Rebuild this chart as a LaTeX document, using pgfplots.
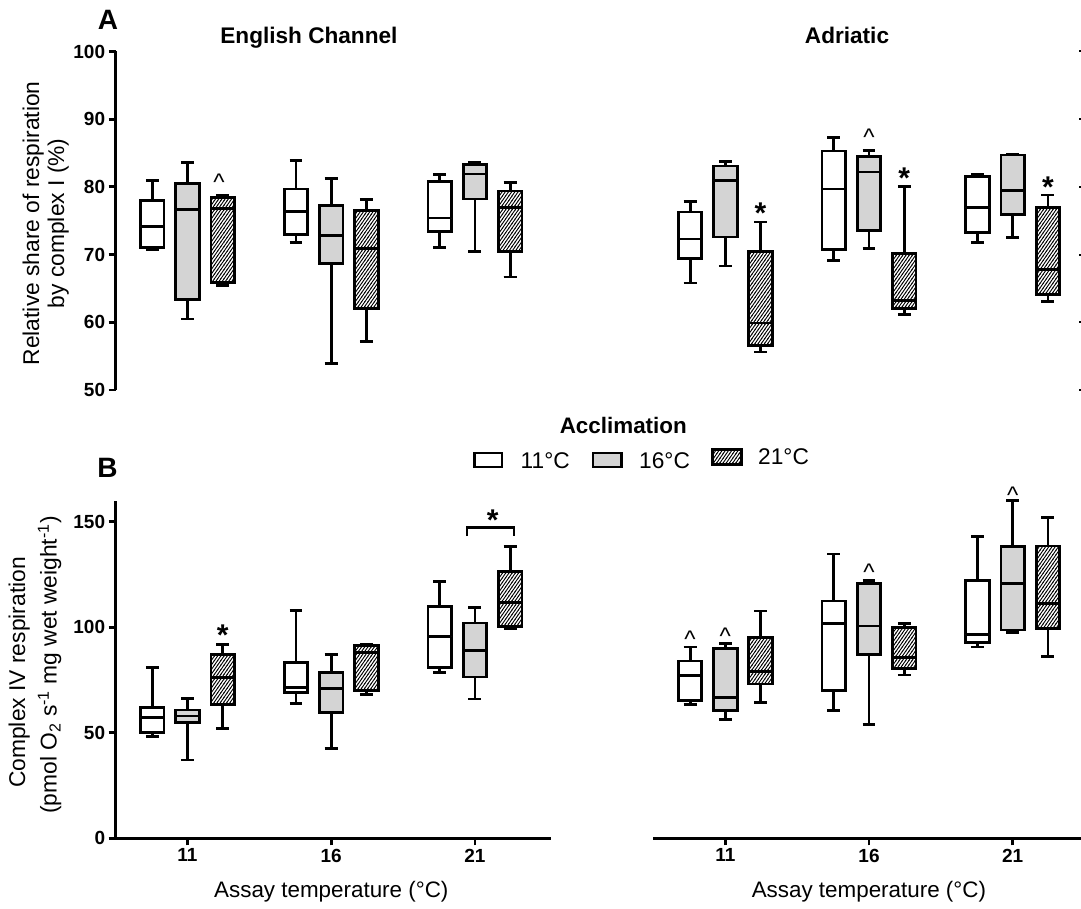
\documentclass[border=0pt]{standalone}
\usepackage{fontspec}
\setmainfont{Liberation Sans}
\usepackage{pgfplots}
\pgfplotsset{compat=1.18}
\usepgfplotslibrary{statistics}
\usetikzlibrary{patterns}
\definecolor{boxgray}{RGB}{212,212,212}

\pgfdeclarepatternformonly{hatch}{\pgfqpoint{-1pt}{-1pt}}{\pgfqpoint{4.2pt}{5.6pt}}{\pgfqpoint{3.2pt}{4.6pt}}{%
  \pgfsetlinewidth{0.9pt}%
  \pgfpathmoveto{\pgfqpoint{-0.32pt}{-0.46pt}}%
  \pgfpathlineto{\pgfqpoint{3.52pt}{5.06pt}}%
  \pgfusepath{stroke}}

% one box: style, position, lower whisker, lower quartile, median, upper quartile, upper whisker
\newcommand{\bx}[7]{\addplot[#1, boxplot prepared={draw position=#2, lower whisker=#3, lower quartile=#4, median=#5, upper quartile=#6, upper whisker=#7}] coordinates {};}

\pgfplotsset{
  s11/.style={draw=black, fill=white, line width=2.8pt},
  s16/.style={draw=black, fill=boxgray, line width=2.8pt},
  s21/.style={draw=black, line width=2.8pt, pattern=hatch, pattern color=black},
  base/.style={scale only axis, clip=false, xmin=-0.5, anchor=south west,
    tick align=outside, major tick length=7pt,
    axis line style={line width=2.8pt, -},
    tick style={line width=2.8pt, black},
    tick label style={font=\fontsize{19}{19}\selectfont\bfseries},
    /pgf/number format/assume math mode=true,
    boxplot/draw direction=y,
    boxplot/box extend=0.164, boxplot/whisker extend=0.09,
  },
}
\tikzset{
  caret/.style={font=\fontsize{24}{24}\selectfont, anchor=base, yshift=-12.2pt, inner sep=0pt},
  star/.style={font=\fontsize{30}{30}\selectfont\bfseries, anchor=base, yshift=-16.5pt, inner sep=0pt},
}

\begin{document}
\begin{tikzpicture}
\useasboundingbox (0,0) rectangle (1081pt,909pt);

% ---------- A: English Channel ----------
\begin{axis}[base, at={(115.65pt,519pt)}, width=435.7pt, height=338.5pt,
  xmax=2.532, ymin=50, ymax=100, ytick={50,60,...,100},
  axis x line=none, axis y line*=left]
\bx{s11}{-0.245}{70.8}{71.1}{74.2}{78.0}{81.0}
\bx{s16}{0}{60.5}{63.4}{76.7}{80.5}{83.6}
\bx{s21}{0.245}{65.4}{65.9}{76.8}{78.4}{78.7}
\bx{s11}{0.755}{71.8}{73.0}{76.4}{79.7}{83.9}
\bx{s16}{1}{53.9}{68.7}{72.8}{77.3}{81.2}
\bx{s21}{1.245}{57.2}{62.0}{70.9}{76.5}{78.1}
\bx{s11}{1.755}{71.0}{73.4}{75.4}{80.8}{81.8}
\bx{s16}{2}{70.4}{78.2}{81.9}{83.3}{83.6}
\bx{s21}{2.245}{66.7}{70.4}{76.9}{79.4}{80.7}
\node[caret] at (axis cs:0.22,81.2) {\textasciicircum};
\end{axis}

% ---------- A: Adriatic ----------
\begin{axis}[base, at={(653.45pt,519pt)}, width=429.7pt, height=338.5pt,
  xmax=2.49, ymin=50, ymax=100, axis x line=none,
  axis y line*=right, y axis line style={draw=none}, ytick={50,60,...,100}, yticklabels={},
  tick align=inside, major tick length=4pt, tick style={line width=2pt, black}]
\bx{s11}{-0.245}{65.8}{69.4}{72.3}{76.3}{77.8}
\bx{s16}{0}{68.3}{72.6}{81.0}{83.1}{83.8}
\bx{s21}{0.245}{55.6}{56.6}{59.9}{70.4}{74.8}
\bx{s11}{0.755}{69.1}{70.8}{79.7}{85.3}{87.3}
\bx{s16}{1}{70.9}{73.6}{82.2}{84.5}{85.4}
\bx{s21}{1.245}{61.2}{62.0}{63.2}{70.2}{80.0}
\bx{s11}{1.755}{71.8}{73.3}{77.0}{81.5}{81.9}
\bx{s16}{2}{72.5}{75.9}{79.5}{84.7}{84.8}
\bx{s21}{2.245}{63.1}{64.1}{67.8}{76.9}{78.8}
\node[star] at (axis cs:0.245,77.0) {*};
\node[caret] at (axis cs:1,87.9) {\textasciicircum};
\node[star] at (axis cs:1.245,82.2) {*};
\node[star] at (axis cs:2.245,80.8) {*};
\end{axis}

% ---------- B: English Channel ----------
\begin{axis}[base, at={(115.65pt,70.7pt)}, width=435.7pt, height=337.7pt,
  xmax=2.532, ymin=0, ymax=160, ytick={0,50,100,150},
  xtick={0,1,2}, xticklabels={11,16,21},
  axis x line*=bottom, axis y line*=left]
\bx{s11}{-0.245}{48.4}{50.3}{57.4}{61.8}{81.0}
\bx{s16}{0}{37.1}{54.7}{57.9}{60.8}{66.2}
\bx{s21}{0.245}{52.2}{63.5}{76.3}{87.1}{91.8}
\bx{s11}{0.755}{63.7}{68.9}{71.4}{83.3}{107.9}
\bx{s16}{1}{42.6}{59.7}{71.1}{78.6}{86.9}
\bx{s21}{1.245}{68.2}{70.1}{88.1}{91.4}{92.1}
\bx{s11}{1.755}{78.6}{81.0}{95.6}{109.7}{121.5}
\bx{s16}{2}{66.0}{76.4}{88.8}{102.0}{109.4}
\bx{s21}{2.245}{99.4}{100.2}{111.8}{126.4}{138.2}
\addplot[black, line width=2.4pt, sharp plot, mark=none] coordinates {(1.943,143.2) (1.943,147.3) (2.274,147.3) (2.274,143.2)};
\node[star] at (axis cs:0.245,99.1) {*};
\node[star] at (axis cs:2.124,153.6) {*};
\end{axis}

% ---------- B: Adriatic ----------
\begin{axis}[base, at={(653.45pt,70.7pt)}, width=429.7pt, height=337.7pt,
  xmax=2.49, ymin=0, ymax=160,
  xtick={0,1,2}, xticklabels={11,16,21},
  axis x line*=bottom, axis y line=none]
\bx{s11}{-0.245}{63.4}{65.4}{77.0}{84.0}{90.6}
\bx{s16}{0}{56.3}{60.4}{66.8}{89.9}{92.3}
\bx{s21}{0.245}{64.5}{73.1}{79.1}{95.1}{107.7}
\bx{s11}{0.755}{60.7}{70.1}{101.9}{112.4}{134.7}
\bx{s16}{1}{53.9}{87.1}{100.6}{120.6}{122.3}
\bx{s21}{1.245}{77.4}{80.3}{85.5}{99.8}{101.6}
\bx{s11}{1.755}{90.6}{92.8}{96.4}{122.2}{142.8}
\bx{s16}{2}{97.6}{98.7}{120.8}{138.4}{160.1}
\bx{s21}{2.245}{86.2}{99.4}{111.3}{138.5}{151.9}
\node[caret] at (axis cs:-0.245,96.2) {\textasciicircum};
\node[caret] at (axis cs:0,97.8) {\textasciicircum};
\node[caret] at (axis cs:1,127.7) {\textasciicircum};
\node[caret] at (axis cs:2,164.6) {\textasciicircum};
\end{axis}

% ---------- titles, axis labels, legend ----------
\node[anchor=base, font=\fontsize{28}{28}\selectfont\bfseries] at (108pt,879.7pt) {A};
\node[anchor=base, font=\fontsize{28}{28}\selectfont\bfseries] at (107.6pt,431.7pt) {B};
\node[anchor=base, font=\fontsize{22.6}{22.6}\selectfont\bfseries] at (308.9pt,865.7pt) {English Channel};
\node[anchor=base, font=\fontsize{22.6}{22.6}\selectfont\bfseries] at (847pt,865.7pt) {Adriatic};
\node[anchor=base, font=\fontsize{22.4}{22.4}\selectfont\bfseries] at (623.3pt,475.7pt) {Acclimation};
\node[rotate=90, anchor=base, font=\fontsize{22.8}{22.8}\selectfont] at (39pt,685.7pt) {Relative share of respiration};
\node[rotate=90, anchor=base, font=\fontsize{22.8}{22.8}\selectfont] at (64pt,685.7pt) {by complex I (\%)};
\node[rotate=90, anchor=base, font=\fontsize{22.8}{22.8}\selectfont] at (25pt,236.5pt) {Complex IV respiration};
\node[rotate=90, anchor=base, font=\fontsize{22.8}{22.8}\selectfont] at (56.5pt,244pt) {(pmol O\textsubscript{2} s\textsuperscript{-1} mg wet weight\textsuperscript{-1})};
\node[anchor=base, font=\fontsize{22.4}{22.4}\selectfont] at (331.3pt,11.7pt) {Assay temperature (°C)};
\node[anchor=base, font=\fontsize{22.4}{22.4}\selectfont] at (868.9pt,11.7pt) {Assay temperature (°C)};
% legend
\draw[line width=2.8pt, fill=white] (474.65pt,442.05pt) rectangle (501.95pt,455.95pt);
\node[anchor=base west, inner sep=0pt, font=\fontsize{22.7}{22.7}\selectfont] at (520.5pt,440.7pt) {11°C};
\draw[line width=2.8pt, fill=boxgray] (593.05pt,442.05pt) rectangle (621.35pt,455.95pt);
\node[anchor=base west, inner sep=0pt, font=\fontsize{22.7}{22.7}\selectfont] at (639pt,440.7pt) {16°C};
\draw[line width=2.8pt, pattern=hatch, pattern color=black] (712.5pt,444.65pt) rectangle (741.5pt,459.35pt);
\node[anchor=base west, inner sep=0pt, font=\fontsize{22.7}{22.7}\selectfont] at (758pt,444pt) {21°C};
\end{tikzpicture}
\end{document}
